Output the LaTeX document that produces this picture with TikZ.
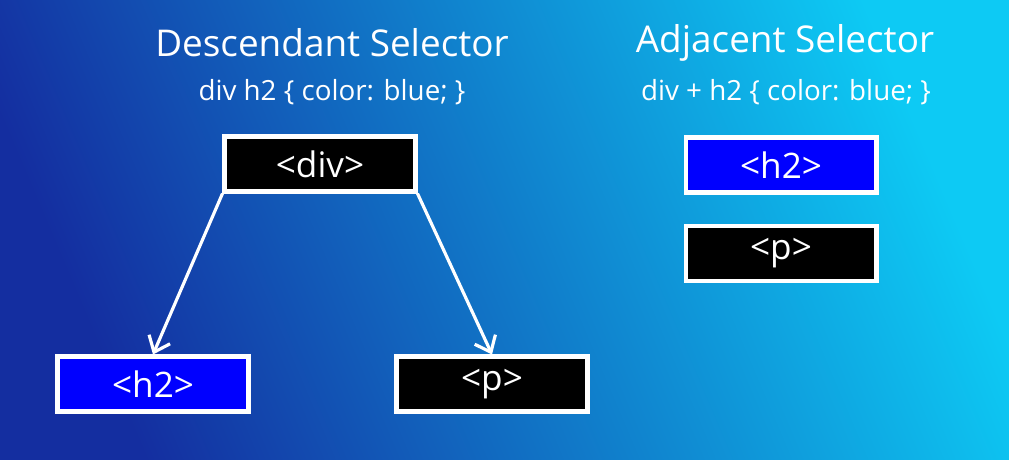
\documentclass[tikz,border=0pt]{standalone}
\usepackage{fontspec}
\setmainfont{Open Sans}
\usetikzlibrary{arrows.meta,positioning}
\definecolor{bgdark}{RGB}{20,46,160}
\definecolor{bglight}{RGB}{13,202,244}
\definecolor{tagblue}{RGB}{0,0,255}

\begin{document}
\begin{tikzpicture}[
    x=0.02cm, y=-0.02cm,
    title/.style={text=white, font=\fontsize{21}{25}\selectfont},
    rule/.style={text=white, font=\fontsize{15.8}{19}\selectfont},
    tag/.style={rectangle, draw=white, line width=2.3pt, minimum width=3.82cm, minimum height=1.1cm, text=white, font=\fontsize{20}{24}\selectfont, fill=black},
    match/.style={tag, fill=tagblue},
    arrow/.style={-{Straight Barb[length=8pt,width=13pt]}, draw=white, line width=1.8pt}
]

% Background
\shade[left color=bgdark, right color=bglight, shading angle=113] (0,0) rectangle (1009,460);

% Descendant selector
\node[title] (desctitle) at (332,43) {Descendant Selector};
\node[rule] (descrule) at (332,92) {div h2 \{ color: blue; \}};
\node[tag] (div) at (320,164) {<div>};
\node[match] (h2) at (153,384) {<h2>};
\node[tag] (p) at (492,384) {<p>};

% Adjacent selector
\node[title] (adjtitle) at (785,43) {Adjacent Selector};
\node[rule] (adjrule) at (786,92) {div + h2 \{ color: blue; \}};
\node[match] (adjh2) at (781,165) {<h2>};
\node[tag, below=0.58cm of adjh2] (adjp) {<p>};

% Arrows
\draw[arrow] (div.south west) -- (h2.north);
\draw[arrow] (div.south east) -- (p.north);

\end{tikzpicture}
\end{document}
